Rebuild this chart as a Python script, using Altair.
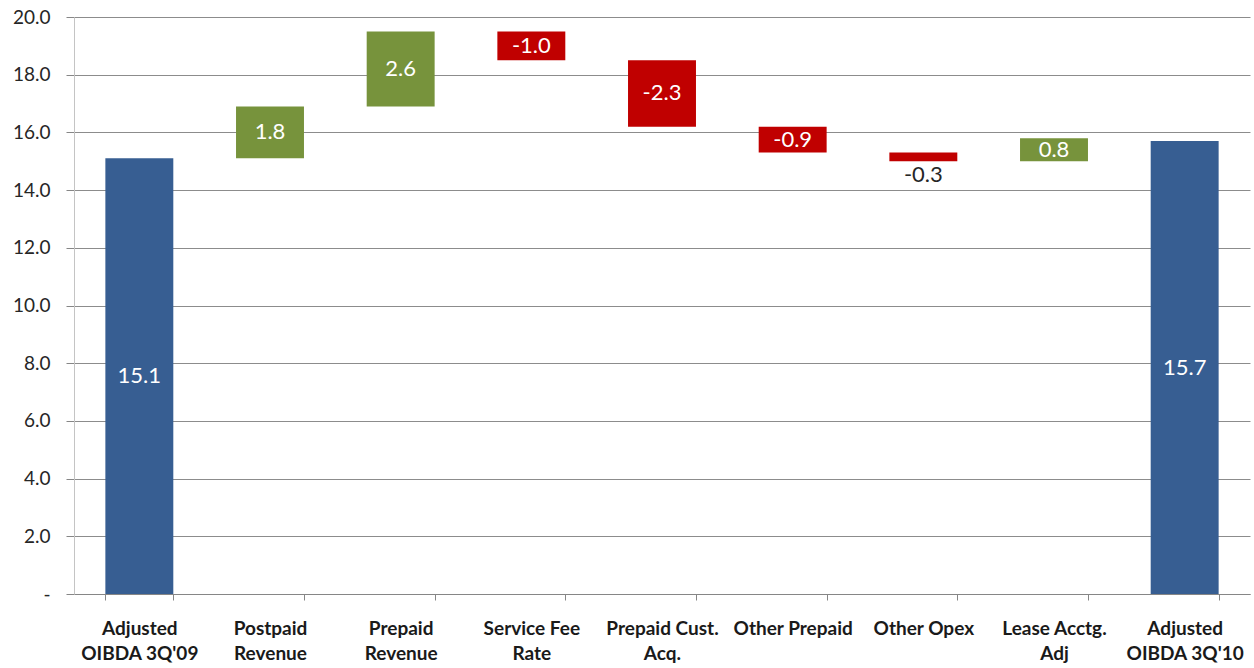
import json
import altair as alt
import pandas as pd

categories = ["Adjusted OIBDA 3Q'09", "Postpaid Revenue", "Prepaid Revenue",
              "Service Fee Rate", "Prepaid Cust. Acq.", "Other Prepaid",
              "Other Opex", "Lease Acctg. Adj", "Adjusted OIBDA 3Q'10"]
label_lines = [["Adjusted", "OIBDA 3Q'09"], ["Postpaid", "Revenue"], ["Prepaid", "Revenue"],
               ["Service Fee", "Rate"], ["Prepaid Cust.", "Acq."], ["Other Prepaid"],
               ["Other Opex"], ["Lease Acctg.", "Adj"], ["Adjusted", "OIBDA 3Q'10"]]
kinds = ["total", "delta", "delta", "delta", "delta", "delta", "delta", "delta", "total"]
values = [15.1, 1.8, 2.6, -1.0, -2.3, -0.9, -0.3, 0.8, 15.7]

rows = []
running = 0.0
for i, (c, k, v) in enumerate(zip(categories, kinds, values)):
    if k == "total":
        start, end = 0.0, v
        running = v
        color = "total"
    else:
        start, end = running, running + v
        running = end
        color = "up" if v > 0 else "down"
    small = abs(v) < 0.5
    rows.append({
        "idx": i, "cat": c, "start": start, "end": end, "val": v,
        "color": color, "text": f"{v:.1f}",
        "ty": min(start, end) - 0.12 if small else (start + end) / 2,
        "tcolor": "#262626" if small else "white",
        "below": small,
    })
df = pd.DataFrame(rows)

label_expr = json.dumps(label_lines) + "[datum.value]"

x = alt.X("idx:O",
          scale=alt.Scale(paddingInner=0.48, paddingOuter=0.24),
          axis=alt.Axis(title=None, labelAngle=0, labelExpr=label_expr,
                        labelFont="Lato", labelFontWeight="bold", labelFontSize=19,
                        labelColor="#1a1a1a", labelLineHeight=25, labelPadding=19,
                        tickBand="extent", tickSize=6, tickColor="#868686",
                        domainColor="#868686", grid=False))

bars = alt.Chart(df).mark_bar().encode(
    x=x,
    y=alt.Y("start:Q", scale=alt.Scale(domain=[0, 20], nice=False),
            axis=alt.Axis(title=None, values=list(range(0, 21, 2)),
                          labelExpr="datum.value == 0 ? '-' : format(datum.value, '.1f')",
                          labelFont="Lato", labelFontSize=19, labelColor="#262626",
                          labelPadding=16, tickSize=8, tickColor="#868686",
                          domainColor="#c4c4c4", gridColor="#8c8c8c", gridWidth=1)),
    y2="end:Q",
    color=alt.Color("color:N", legend=None,
                    scale=alt.Scale(domain=["total", "up", "down"],
                                    range=["#375E92", "#77933C", "#C00000"])),
)

texts_mid = alt.Chart(df[~df["below"]]).mark_text(
    font="Lato", fontSize=22, baseline="middle").encode(
    x=alt.X("idx:O"), y=alt.Y("ty:Q"), text="text:N",
    color=alt.Color("tcolor:N", scale=None))
texts_below = alt.Chart(df[df["below"]]).mark_text(
    font="Lato", fontSize=22, baseline="top").encode(
    x=alt.X("idx:O"), y=alt.Y("ty:Q"), text="text:N",
    color=alt.Color("tcolor:N", scale=None))

chart = alt.layer(bars, texts_mid, texts_below).properties(
    width=1176, height=577,
    background="white",
    autosize=alt.AutoSizeParams(type="none"),
    padding={"left": 74, "top": 17, "right": 4, "bottom": 74},
).configure_view(stroke=None)

chart.save("out.html", embed_options={"renderer": "svg", "actions": False})
